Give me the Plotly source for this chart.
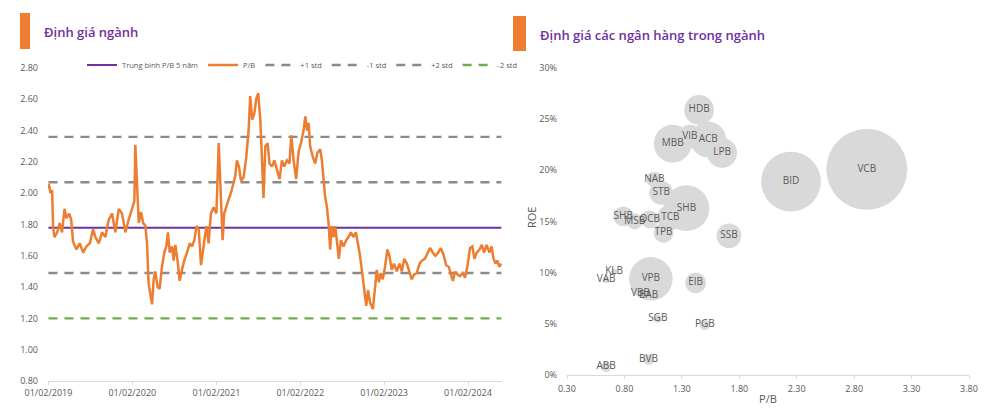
import numpy as np
import pandas as pd
import plotly.graph_objects as go

# ---------------- Left chart data: P/B of the banking sector ----------------
start_date = pd.Timestamp("2019-02-01")
pb_day_offsets = [
    0, 1, 9, 16, 20, 26, 38, 49, 59, 70, 78, 90, 99, 107, 122, 136, 151, 165, 180, 194,
    204, 219, 233, 248, 262, 277, 291, 306, 320, 335, 349, 364, 374, 378, 386, 393, 403, 412, 422, 429,
    436, 444, 451, 458, 465, 475, 484, 494, 504, 513, 520, 528, 538, 545, 552, 562, 571, 581, 591, 603,
    615, 625, 635, 644, 654, 664, 675, 687, 697, 707, 719, 731, 741, 748, 758, 765, 774, 784, 794, 803,
    813, 820, 829, 838, 849, 861, 871, 878, 887, 896, 904, 913, 922, 929, 936, 944, 954, 962, 973, 983,
    994, 1006, 1016, 1026, 1038, 1049, 1057, 1067, 1078, 1089, 1099, 1110, 1118, 1125, 1132, 1139, 1151, 1161, 1171, 1183,
    1190, 1197, 1204, 1212, 1219, 1226, 1233, 1241, 1248, 1255, 1264, 1273, 1284, 1296, 1306, 1316, 1328, 1338, 1345, 1354,
    1364, 1374, 1383, 1391, 1400, 1412, 1420, 1429, 1438, 1446, 1455, 1465, 1475, 1484, 1494, 1504, 1516, 1528, 1538, 1548,
    1560, 1571, 1581, 1591, 1603, 1615, 1626, 1638, 1649, 1661, 1673, 1684, 1696, 1707, 1719, 1731, 1742, 1751, 1760, 1770,
    1780, 1791, 1803, 1813, 1823, 1835, 1845, 1854, 1864, 1876, 1886, 1896, 1907, 1919, 1929, 1936, 1945, 1954, 1962, 1971,
]
pb_values = [
    2.03, 2.06, 2.00, 2.02, 1.79, 1.72, 1.75, 1.81, 1.75, 1.90, 1.84, 1.87, 1.83, 1.69, 1.64, 1.68, 1.62, 1.66, 1.68, 1.77,
    1.72, 1.68, 1.75, 1.72, 1.83, 1.87, 1.75, 1.90, 1.87, 1.75, 1.83, 1.90, 1.95, 2.31, 2.06, 1.81, 1.88, 1.81, 1.79, 1.68,
    1.42, 1.36, 1.29, 1.45, 1.50, 1.40, 1.39, 1.53, 1.62, 1.66, 1.75, 1.62, 1.66, 1.57, 1.67, 1.57, 1.44, 1.51, 1.57, 1.62,
    1.68, 1.66, 1.70, 1.79, 1.77, 1.54, 1.66, 1.79, 1.68, 1.87, 1.91, 1.87, 2.32, 2.02, 1.70, 1.87, 1.92, 1.96, 2.00, 2.06,
    2.11, 2.21, 2.17, 2.08, 2.10, 2.23, 2.40, 2.62, 2.47, 2.51, 2.60, 2.64, 2.47, 2.23, 1.97, 2.30, 2.32, 2.19, 2.17, 2.21,
    2.15, 2.09, 2.21, 2.17, 2.21, 2.19, 2.37, 2.21, 2.09, 2.27, 2.32, 2.40, 2.49, 2.40, 2.45, 2.30, 2.23, 2.19, 2.26, 2.28,
    2.21, 2.09, 1.98, 1.91, 1.81, 1.64, 1.79, 1.72, 1.79, 1.70, 1.58, 1.70, 1.66, 1.70, 1.72, 1.75, 1.72, 1.75, 1.70, 1.62,
    1.51, 1.38, 1.28, 1.38, 1.30, 1.26, 1.36, 1.51, 1.43, 1.49, 1.45, 1.53, 1.64, 1.60, 1.51, 1.55, 1.50, 1.55, 1.50, 1.58,
    1.55, 1.49, 1.45, 1.48, 1.49, 1.55, 1.57, 1.58, 1.61, 1.65, 1.62, 1.60, 1.62, 1.65, 1.61, 1.54, 1.53, 1.49, 1.44, 1.50,
    1.48, 1.47, 1.49, 1.46, 1.53, 1.65, 1.66, 1.58, 1.62, 1.64, 1.67, 1.62, 1.67, 1.62, 1.66, 1.59, 1.55, 1.57, 1.53, 1.55,
]
pb_mean_5y = 1.78
pb_plus1 = 2.07
pb_minus1 = 1.49
pb_plus2 = 2.36
pb_minus2 = 1.20
x_tick_dates = ["2019-02-01", "2020-02-01", "2021-02-01", "2022-02-01", "2023-02-01", "2024-02-01"]

# ---------------- Right chart data: banks P/B vs ROE ----------------
banks = ["VCB", "BID", "SHB", "VPB", "MBB", "ACB", "HDB", "LPB", "TCB", "STB", "VIB", "SSB",
         "EIB", "TPB", "SHB", "NAB", "OCB", "MSB", "VBB", "BAB", "KLB", "VAB", "SGB", "PGB", "BVB", "ABB"]
bank_pb = [2.91, 2.25, 1.34, 1.03, 1.22, 1.53, 1.45, 1.65, 1.20, 1.12, 1.37, 1.71,
           1.42, 1.14, 0.79, 1.06, 1.02, 0.89, 0.94, 1.01, 0.71, 0.64, 1.09, 1.50, 1.01, 0.64]
bank_roe = [0.201, 0.189, 0.163, 0.094, 0.226, 0.230, 0.259, 0.217, 0.154, 0.178, 0.233, 0.136,
            0.090, 0.139, 0.155, 0.191, 0.152, 0.150, 0.080, 0.078, 0.101, 0.093, 0.055, 0.049, 0.015, 0.008]
bank_mcap = [500, 272, 160, 144, 109, 98, 68, 68, 51, 43, 43, 47,
             33, 30, 30, 19, 24, 19, 5, 8, 3, 3, 5, 8, 8, 8]

ORANGE = "#ED7D31"
PURPLE = "#7030A0"
GRAY = "#8A8A8A"
GREEN = "#70AD47"
TXT = "#595959"
FONT = "Open Sans"

# The page body has an 8px margin; the figure is sized so that it fills the window.
OFF = 8
FIG_W, FIG_H = 1000 - OFF, 408 - OFF


def fx(px):
    return (px - OFF) / FIG_W


def fy(py):
    return 1 - (py - OFF) / FIG_H


pb_dates = start_date + pd.to_timedelta(pb_day_offsets, unit="D")
first, last = pb_dates[0], pb_dates[-1]

fig = go.Figure()

ref_lines = [
    ("Trung bình P/B 5 năm", pb_mean_5y, PURPLE, "solid", 1),
    ("+1 std", pb_plus1, GRAY, "9px,7px", 3),
    ("-1 std", pb_minus1, GRAY, "9px,7px", 4),
    ("+2 std", pb_plus2, GRAY, "9px,7px", 5),
    ("-2 std", pb_minus2, GREEN, "9px,7px", 6),
]
for name, val, col, dash, rank in ref_lines:
    fig.add_trace(go.Scatter(
        x=[first, last], y=[val, val], mode="lines", name=name, legendrank=rank,
        line=dict(color=col, width=2.4 if dash != "solid" else 2, dash=dash),
        xaxis="x", yaxis="y", hoverinfo="skip"))

fig.add_trace(go.Scatter(
    x=pb_dates, y=pb_values, mode="lines", name="P/B", legendrank=2,
    line=dict(color=ORANGE, width=2.5), xaxis="x", yaxis="y"))

max_diam = 81
fig.add_trace(go.Scatter(
    x=bank_pb, y=bank_roe, mode="markers+text", text=banks, textposition="middle center",
    textfont=dict(family=FONT, size=10, color=TXT),
    marker=dict(size=bank_mcap, sizemode="area", sizeref=2 * max(bank_mcap) / max_diam ** 2,
                color="#D9D9D9", opacity=1, line=dict(width=0)),
    showlegend=False, xaxis="x2", yaxis="y2"))

fig.update_layout(
    width=FIG_W, height=FIG_H,
    margin=dict(l=0, r=0, t=0, b=0, autoexpand=False),
    paper_bgcolor="white", plot_bgcolor="white",
    font=dict(family=FONT, size=9, color=TXT),
    showlegend=True,
    legend=dict(orientation="h", x=fx(82), xanchor="left", y=fy(65), yanchor="middle",
                font=dict(size=7.5, color=TXT), bgcolor="rgba(0,0,0,0)",
                itemwidth=30, tracegroupgap=0, traceorder="normal"),
    xaxis=dict(domain=[fx(48), fx(502)], type="date", automargin=False,
               range=[start_date - pd.Timedelta(days=2), start_date + pd.Timedelta(days=1974)],
               tickvals=x_tick_dates, tickformat="%d/%m/%Y",
               showgrid=False, zeroline=False, showline=True, linecolor="#D9D9D9", linewidth=1,
               ticks="outside", ticklen=3, tickcolor="#D9D9D9",
               tickfont=dict(size=9, color=TXT), anchor="y"),
    yaxis=dict(domain=[fy(381), fy(68)], range=[0.8, 2.8], dtick=0.2, tick0=0.8,
               tickformat=".2f", showgrid=False, zeroline=False, showline=False, automargin=False,
               ticklabelstandoff=9, tickfont=dict(size=9, color=TXT), anchor="x"),
    xaxis2=dict(domain=[fx(567), fx(969)], range=[0.3, 3.8], tick0=0.3, dtick=0.5,
                tickformat=".2f", showgrid=False, zeroline=False, showline=True, automargin=False,
                linecolor="#D9D9D9", linewidth=1, ticks="outside", ticklen=3, tickcolor="#D9D9D9",
                tickfont=dict(size=9, color=TXT), ticklabelstandoff=2,
                title=dict(text="P/B", font=dict(size=11, color=TXT), standoff=1), anchor="y2"),
    yaxis2=dict(domain=[fy(375), fy(68)], range=[0, 0.30], dtick=0.05, tick0=0,
                tickformat=".0%", showgrid=False, zeroline=False, showline=False, automargin=False,
                ticklabelstandoff=9, tickfont=dict(size=9, color=TXT), anchor="x2"),
    shapes=[
        dict(type="rect", xref="paper", yref="paper", x0=fx(20), x1=fx(30),
             y0=fy(49), y1=fy(13), fillcolor=ORANGE, line=dict(width=0)),
        dict(type="rect", xref="paper", yref="paper", x0=fx(513), x1=fx(526),
             y0=fy(51), y1=fy(16), fillcolor=ORANGE, line=dict(width=0)),
    ],
    annotations=[
        dict(text="Định giá ngành", xref="paper", yref="paper", x=fx(42), y=fy(32),
             xanchor="left", yanchor="middle", showarrow=False,
             font=dict(family=FONT, size=13, color=PURPLE, weight=600)),
        dict(text="Định giá các ngân hàng trong ngành", xref="paper", yref="paper",
             x=fx(538), y=fy(35), xanchor="left", yanchor="middle", showarrow=False,
             font=dict(family=FONT, size=13, color=PURPLE, weight=600)),
        dict(text="ROE", xref="paper", yref="paper", x=fx(531), y=fy(218), textangle=-90,
             xanchor="center", yanchor="middle", showarrow=False,
             font=dict(family=FONT, size=11, color=TXT)),
    ],
)

fig.write_html("out.html")
